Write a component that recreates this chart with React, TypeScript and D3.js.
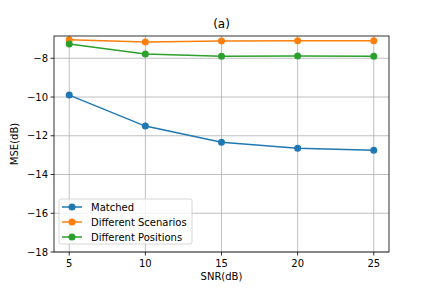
import * as d3 from 'd3';

const snr = [5, 10, 15, 20, 25];
const matched = [-9.9, -11.5, -12.33, -12.65, -12.75];
const diffScenarios = [-7.05, -7.16, -7.11, -7.1, -7.1];
const diffPositions = [-7.26, -7.78, -7.9, -7.88, -7.9];
const seriesNames = ['Matched', 'Different Scenarios', 'Different Positions'];
const seriesColors = ['#1f77b4', '#ff7f0e', '#2ca02c'];
const xTicks = [5, 10, 15, 20, 25];
const yTicks = [-8, -10, -12, -14, -16, -18];

const W = 432;
const H = 288;
const margin = { top: 36, right: 43, bottom: 36, left: 54 };
const font = 'DejaVu Sans, sans-serif';

export default function App() {
  const iw = W - margin.left - margin.right;
  const ih = H - margin.top - margin.bottom;
  const x = d3.scaleLinear().domain([4, 26]).range([0, iw]);
  const y = d3.scaleLinear().domain([-18, -6.85]).range([ih, 0]);
  const line = d3.line<[number, number]>().x(d => x(d[0])).y(d => y(d[1]));
  const allSeries = [matched, diffScenarios, diffPositions];
  const fmt = (v: number) => (v < 0 ? '\u2212' + Math.abs(v) : String(v));

  return (
    <div style={{ position: 'fixed', left: 0, top: 0 }}>
      <svg width={W} height={H} style={{ display: 'block', background: '#fff' }} fontFamily={font}>
        <g transform={`translate(${margin.left},${margin.top})`}>
          {xTicks.map(t => (
            <line key={'gx' + t} x1={x(t)} x2={x(t)} y1={0} y2={ih} stroke="#b0b0b0" strokeWidth={0.8} />
          ))}
          {yTicks.map(t => (
            <line key={'gy' + t} x1={0} x2={iw} y1={y(t)} y2={y(t)} stroke="#b0b0b0" strokeWidth={0.8} />
          ))}
          {allSeries.map((s, i) => {
            const pts = snr.map((v, j) => [v, s[j]] as [number, number]);
            return (
              <g key={i}>
                <path d={line(pts) || ''} fill="none" stroke={seriesColors[i]} strokeWidth={1.5} />
                {pts.map((p, j) => (
                  <circle key={j} cx={x(p[0])} cy={y(p[1])} r={3.5} fill={seriesColors[i]} />
                ))}
              </g>
            );
          })}
          <rect x={0} y={0} width={iw} height={ih} fill="none" stroke="#000" strokeWidth={0.8} />
          {xTicks.map(t => (
            <g key={'tx' + t} transform={`translate(${x(t)},${ih})`}>
              <line y2={3.5} stroke="#000" strokeWidth={0.8} />
              <text y={15} textAnchor="middle" fontSize={10}>{t}</text>
            </g>
          ))}
          {yTicks.map(t => (
            <g key={'ty' + t} transform={`translate(0,${y(t)})`}>
              <line x2={-3.5} stroke="#000" strokeWidth={0.8} />
              <text x={-6} dy="0.35em" textAnchor="end" fontSize={10}>{fmt(t)}</text>
            </g>
          ))}
          <text x={iw / 2} y={-8} textAnchor="middle" fontSize={12}>(a)</text>
          <text x={iw / 2} y={ih + 28} textAnchor="middle" fontSize={10}>SNR(dB)</text>
          <text transform={`translate(${-36},${ih / 2}) rotate(-90)`} textAnchor="middle" fontSize={10}>MSE(dB)</text>
          <g transform="translate(5,163)">
            <rect x={0} y={0} width={133} height={45} rx={2} fill="#fff" fillOpacity={0.8} stroke="#ccc" strokeWidth={0.8} />
            {seriesNames.map((n, i) => (
              <g key={n} transform={`translate(0,${8 + i * 15})`}>
                <line x1={3} x2={23} stroke={seriesColors[i]} strokeWidth={1.5} />
                <circle cx={13} r={3.5} fill={seriesColors[i]} />
                <text x={32} dy="0.35em" fontSize={10}>{n}</text>
              </g>
            ))}
          </g>
        </g>
      </svg>
    </div>
  );
}
